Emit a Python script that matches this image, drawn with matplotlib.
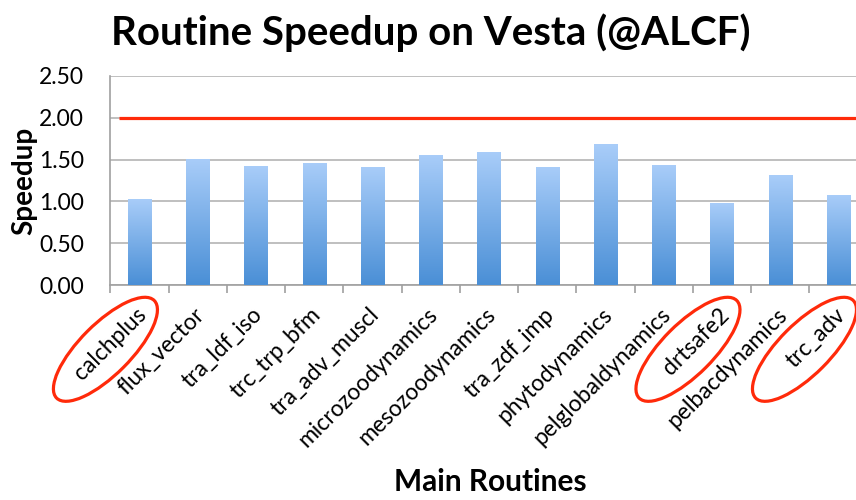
import matplotlib
matplotlib.use("Agg")
import matplotlib.pyplot as plt
import numpy as np
from matplotlib.patches import Ellipse
from matplotlib.colors import LinearSegmentedColormap
from matplotlib.transforms import ScaledTranslation

routines = ["calchplus", "flux_vector", "tra_ldf_iso", "trc_trp_bfm", "tra_adv_muscl",
            "microzoodynamics", "mesozoodynamics", "tra_zdf_imp", "phytodynamics",
            "pelglobaldynamics", "drtsafe2", "pelbacdynamics", "trc_adv"]
speedup = [1.03, 1.51, 1.42, 1.46, 1.41, 1.56, 1.59, 1.41, 1.68, 1.44, 0.98, 1.31, 1.08]
target = 2.00
highlighted = ["calchplus", "drtsafe2", "trc_adv"]
yticks = [0.0, 0.5, 1.0, 1.5, 2.0, 2.5]

plt.rcParams['font.family'] = ['Lato', 'DejaVu Sans']

W, H, DPI = 856, 500, 100
fig = plt.figure(figsize=(W / DPI, H / DPI), dpi=DPI)
ax = fig.add_axes([110.3 / W, 1 - 285.3 / H, (867.6 - 110.3) / W, (285.3 - 75.7) / H])

x = np.arange(len(routines))
bw = 0.4
cmap = LinearSegmentedColormap.from_list("bl", ["#4A8FD6", "#A9CDF9"])
grad = np.linspace(0, 1, 256).reshape(-1, 1)
bars = ax.bar(x, speedup, width=bw, color="none", edgecolor="none", zorder=3)
for b in bars:
    x0, y0 = b.get_x(), b.get_y()
    im = ax.imshow(grad, cmap=cmap, origin="lower", aspect="auto",
                   extent=[x0, x0 + b.get_width(), y0, y0 + b.get_height()], zorder=3)
    im.set_clip_path(b)

ax.plot([-0.35, len(routines) + 0.5], [target, target], color="#FF2A0A", lw=2.3, zorder=4,
        solid_capstyle="butt")

ax.set_xlim(-0.5, len(routines) - 0.5)
ax.set_ylim(0, 2.5)
ax.set_yticks(yticks)
ax.set_yticklabels([f"{v:.2f}" for v in yticks], fontsize=16.5)
ax.yaxis.grid(True, color="#B4B4B4", lw=1.2, zorder=0)
ax.set_axisbelow(True)
ax.tick_params(axis="y", length=0, pad=19)

ax.set_xticks(x)
ax.set_xticklabels(routines, rotation=45, ha="right", va="top", rotation_mode="anchor",
                   fontsize=16.5)
ax.tick_params(axis="x", which="major", length=0, pad=13.5)
ax.set_xticks(np.arange(-0.5, len(routines) + 0.5, 1), minor=True)
ax.tick_params(axis="x", which="minor", length=6, color="#A0A0A0", width=1.2, direction="out")
shift = ScaledTranslation(-4 / DPI, 0, fig.dpi_scale_trans)
for lab in ax.get_xticklabels():
    lab.set_transform(lab.get_transform() + shift)

for s in ["top", "right"]:
    ax.spines[s].set_visible(False)
ax.spines["left"].set_color("#A0A0A0")
ax.spines["bottom"].set_color("#A0A0A0")
ax.spines["left"].set_linewidth(1.2)
ax.spines["bottom"].set_linewidth(1.2)

ax.set_ylabel("Speedup", fontsize=20, fontweight="bold")
ax.yaxis.set_label_coords(-0.097, 0.5)
fig.text(490 / W, 1 - 482 / H, "Main Routines", fontsize=21.5, fontweight="bold",
         ha="center", va="center")
fig.text(431 / W, 1 - 33 / H, "Routine Speedup on Vesta (@ALCF)", fontsize=29,
         fontweight="bold", ha="center", va="center")

# red ellipse annotations around highlighted routine labels
fig.canvas.draw()
for name in highlighted:
    i = routines.index(name)
    cx, cy = ax.transData.transform((i, 0))
    e = Ellipse((cx - 34, cy - 64), width=138, height=51, angle=45, fill=False,
                edgecolor="#FF2A0A", lw=2.3, transform=None, clip_on=False, zorder=10)
    fig.add_artist(e)

fig.savefig("out.png", dpi=DPI)
